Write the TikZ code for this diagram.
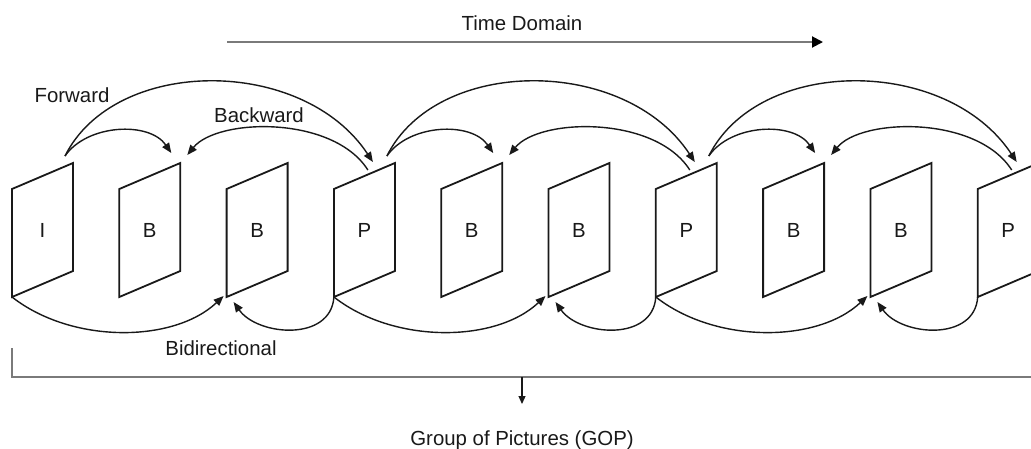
\documentclass[tikz,border=0pt]{standalone}
\usepackage{fontspec}
\setmainfont{Liberation Sans}
\usetikzlibrary{arrows.meta,calc}

\begin{document}
\begin{tikzpicture}[x=1pt,y=-1pt,
  picframe/.style={draw=black!90,line width=1.8pt,line join=miter,fill=white},
  lbl/.style={font=\fontsize{20.4}{24}\selectfont,text=black!90,inner sep=0pt},
  link/.style={draw=black!90,line width=1.4pt,-{Triangle[length=10pt,width=8pt]}},
  guide/.style={draw=black!52,line width=2pt},
]
\useasboundingbox (0,0) rectangle (1031,448);
\clip (0,0) rectangle (1031,448);

% the picture sequence: one parallelogram per frame
\foreach \t [count=\i from 0] in {I,B,B,P,B,B,P,B,B,P} {
  \pgfmathsetmacro\L{12+107.3*\i}
  \coordinate (f\i-bl) at (\L,297);
  \coordinate (f\i-tl) at (\L,189);
  \coordinate (f\i-tr) at (\L+61,163);
  \coordinate (f\i-br) at (\L+61,271);
  % anchor points for the prediction arcs
  \coordinate (f\i-out)  at (\L+53,156);
  \coordinate (f\i-fin)  at (\L+52,153);
  \coordinate (f\i-bin)  at (\L+68,155);
  \coordinate (f\i-lin)  at (\L+39,162);
  \coordinate (f\i-bout) at (\L+34,170);
  \coordinate (f\i-lbin) at (\L-3,296);
  \coordinate (f\i-bbin) at (\L+7,302);
  \draw[picframe] (f\i-bl) -- (f\i-tl) -- (f\i-tr) -- (f\i-br) -- cycle;
  \node[lbl] (f\i) at (\L+30.5,230) {\t};
}

% prediction arcs of each group
\foreach \g in {0,1,2} {
  \pgfmathtruncatemacro\a{3*\g}
  \pgfmathtruncatemacro\b{3*\g+1}
  \pgfmathtruncatemacro\c{3*\g+2}
  \pgfmathtruncatemacro\d{3*\g+3}
  \draw[link] (f\a-out) .. controls +(22,-32) and +(-22,-32) .. (f\b-fin);
  \draw[link] (f\a-out) .. controls +(50,-100) and +(-70,-106) .. (f\d-lin);
  \draw[link] (f\d-bout) .. controls +(-35,-55) and +(30,-37) .. (f\b-bin);
  \draw[link] (f\a-bl) .. controls +(60,47) and +(-50,47) .. (f\c-lbin);
  \draw[link] (f\d-bl) .. controls +(-3,45) and +(24,34) .. (f\c-bbin);
}

% labels of the prediction kinds
\node[lbl] (fwd) at (72,95) {Forward};
\node[lbl] (bwd) at (259,115) {Backward};
\node[lbl] (bid) at (221,348) {Bidirectional};

% time axis
\node[lbl] (time) at (522,23) {Time Domain};
\coordinate (td-a) at (227,42);
\coordinate (td-b) at (823,42);
\draw[guide,-{Triangle[length=11pt,width=11pt,color=black]}] (td-a) -- (td-b);

% group of pictures bracket
\coordinate (br-top) at (12,348);
\coordinate (br-corner) at (12,377);
\coordinate (br-end) at (1040,377);
\draw[guide,line width=1.7pt] (br-top) -- (br-corner) -- (br-end);
\coordinate (gop-from) at (522,377);
\coordinate (gop-tip) at (522,404);
\node[lbl] (gop) at (522,440) {Group of Pictures (GOP)};
\draw[draw=black!90,line width=1.2pt,-{Triangle[length=8pt,width=7pt]}] (gop-from) -- (gop-tip);
\end{tikzpicture}
\end{document}
